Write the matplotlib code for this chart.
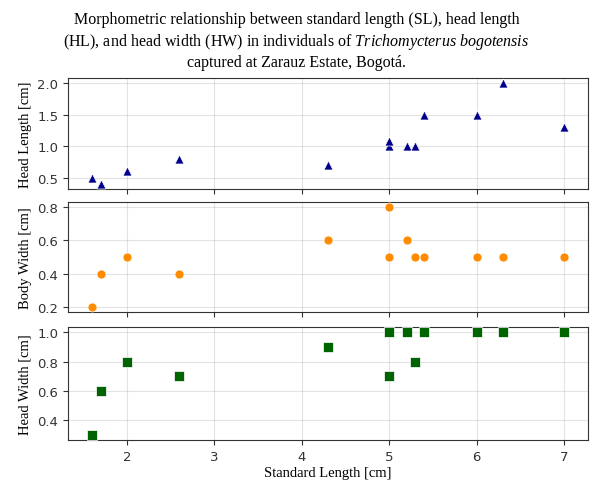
import matplotlib
matplotlib.use("Agg")
import matplotlib.pyplot as plt

# Standard length [cm]
sl = [1.6, 1.7, 2.0, 2.6, 4.3, 5.0, 5.0, 5.2, 5.3, 5.4, 6.0, 6.3, 7.0]
# Head length [cm]
hl = [0.5, 0.4, 0.6, 0.8, 0.7, 1.0, 1.08, 1.0, 1.0, 1.5, 1.5, 2.0, 1.3]
# Body width [cm]
bw = [0.2, 0.4, 0.5, 0.4, 0.6, 0.8, 0.5, 0.6, 0.5, 0.5, 0.5, 0.5, 0.5]
# Head width [cm]
hw = [0.3, 0.6, 0.8, 0.7, 0.9, 1.0, 0.7, 1.0, 0.8, 1.0, 1.0, 1.0, 1.0]

SERIF = "Liberation Serif"
plt.rcParams["mathtext.fontset"] = "custom"
plt.rcParams["mathtext.rm"] = SERIF
plt.rcParams["mathtext.it"] = SERIF + ":italic"

fig = plt.figure(figsize=(5.93, 4.81), dpi=100)
left, width = 0.115, 0.876
ax1 = fig.add_axes([left, 0.605, width, 0.231])
ax2 = fig.add_axes([left, 0.349, width, 0.229], sharex=ax1)
ax3 = fig.add_axes([left, 0.083, width, 0.235], sharex=ax1)

panels = [
    (ax1, hl, "^", "darkblue", "Head Length [cm]"),
    (ax2, bw, "o", "darkorange", "Body Width [cm]"),
    (ax3, hw, "s", "darkgreen", "Head Width [cm]"),
]
for ax, vals, marker, color, label in panels:
    ax.scatter(sl, vals, marker=marker, c=color, s=42,
               edgecolors="white", linewidths=0.5, zorder=3)
    ax.set_ylabel(label, fontsize=10.5, family=SERIF)
    ax.grid(True, alpha=0.35)
    ax.tick_params(labelsize=9.5, colors="#333333")
    for sp in ax.spines.values():
        sp.set_color("#333333")

for ax in (ax1, ax2):
    ax.tick_params(labelbottom=False)

ax1.set_yticks([0.5, 1.0, 1.5, 2.0])
ax2.set_yticks([0.2, 0.4, 0.6, 0.8])
ax3.set_yticks([0.4, 0.6, 0.8, 1.0])
ax3.set_xticks([2, 3, 4, 5, 6, 7])
ax3.set_xlabel("Standard Length [cm]", fontsize=10.5, family=SERIF, labelpad=2)

fig.text(0.5, 0.975,
         "Morphometric relationship between standard length (SL), head length\n"
         "(HL), and head width (HW) in individuals of $\\it{Trichomycterus\\ bogotensis}$\n"
         "captured at Zarauz Estate, Bogotá.",
         ha="center", va="top", fontsize=11.5, family=SERIF,
         linespacing=1.25)

fig.savefig("out.png", dpi=100)
